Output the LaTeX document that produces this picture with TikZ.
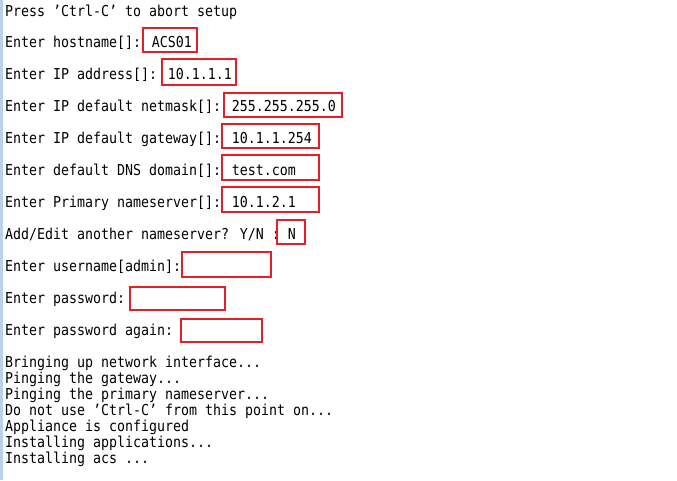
\documentclass[tikz,border=0pt]{standalone}
\usepackage{fontspec}
\newfontfamily\term{DejaVu Sans Mono}
\definecolor{boxred}{RGB}{230,30,40}
\definecolor{stripblue}{RGB}{185,209,234}
\newcommand{\tline}[1]{\scalebox{1}[1.13]{#1}}
\tikzset{
  txt/.style={anchor=base west, inner sep=0pt, font=\term\fontsize{13.29}{16}\selectfont},
  redbox/.style={draw=boxred, line width=1.4pt, inner sep=0pt},
}
\begin{document}
\begin{tikzpicture}[x=1pt,y=-1pt]
\useasboundingbox (0,0) rectangle (677,480);
\fill[white] (0,0) rectangle (677,480);
\fill[stripblue] (0,0) rectangle (3,480);
% prompts
\node[txt] (l1) at (5,16) {\tline{Press ’Ctrl-C’ to abort setup}};
\node[txt] (l2) at (5,47) {\tline{Enter hostname[]: ACS01}};
\node[txt] (l3) at (5,79) {\tline{Enter IP address[]: 10.1.1.1}};
\node[txt] (l4) at (5,111) {\tline{Enter IP default netmask[]: 255.255.255.0}};
\node[txt] (l5) at (5,143) {\tline{Enter IP default gateway[]: 10.1.1.254}};
\node[txt] (l6) at (5,175) {\tline{Enter default DNS domain[]: test.com}};
\node[txt] (l7) at (5,207) {\tline{Enter Primary nameserver[]: 10.1.2.1}};
\node[txt] (l8) at (5,239) {\tline{Add/Edit another nameserver? Y/N : N}};
\node[txt] (l9) at (5,271) {\tline{Enter username[admin]:}};
\node[txt] (l10) at (5,303) {\tline{Enter password:}};
\node[txt] (l11) at (5,335) {\tline{Enter password again:}};
% status lines
\node[txt] (s1) at (5,367) {\tline{Bringing up network interface...}};
\node[txt] (s2) at (5,383) {\tline{Pinging the gateway...}};
\node[txt] (s3) at (5,399) {\tline{Pinging the primary nameserver...}};
\node[txt] (s4) at (5,415) {\tline{Do not use ’Ctrl-C’ from this point on...}};
\node[txt] (s5) at (5,431) {\tline{Appliance is configured}};
\node[txt] (s6) at (5,447) {\tline{Installing applications...}};
\node[txt] (s7) at (5,463) {\tline{Installing acs ...}};
% red boxes
\draw[redbox] (143,28) rectangle (197,52);
\draw[redbox] (162,59) rectangle (236,85);
\draw[redbox] (224,93) rectangle (342,117);
\draw[redbox] (222,124) rectangle (319,148);
\draw[redbox] (222,155) rectangle (319,180);
\draw[redbox] (222,187) rectangle (319,212);
\draw[redbox] (277,220) rectangle (305,244);
\draw[redbox] (182,252) rectangle (271,277);
\draw[redbox] (130,287) rectangle (225,310);
\draw[redbox] (181,319) rectangle (262,342);
\end{tikzpicture}
\end{document}
